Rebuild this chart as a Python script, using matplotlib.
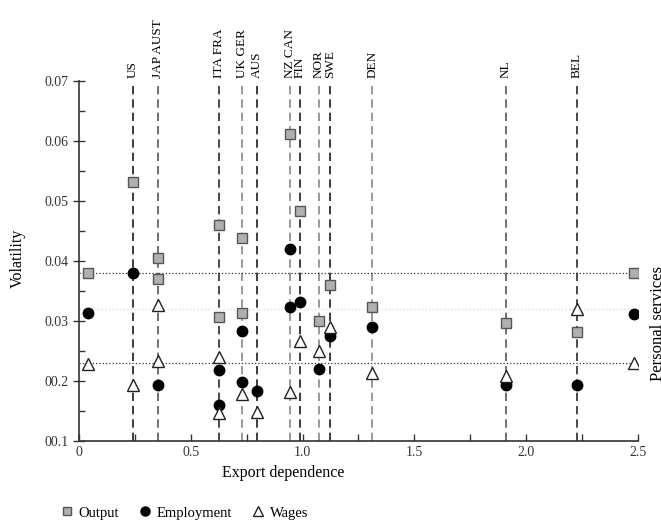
#Volatility against export dependence, by country
import numpy as np
import matplotlib
matplotlib.use("Agg")
import matplotlib.pyplot as plt
from matplotlib.lines import Line2D
from matplotlib.ticker import MultipleLocator

plt.rcParams['font.family'] = ['Liberation Serif', 'DejaVu Serif']

#Country reference lines (export dependence)
line_labels = ["US", "JAP AUST", "ITA FRA", "UK GER", "AUS", "NZ CAN", "FIN",
               "NOR", "SWE", "DEN", "NL", "BEL"]
line_x = [0.24, 0.355, 0.627, 0.73, 0.795, 0.944, 0.988, 1.073, 1.122, 1.312, 1.908, 2.226]

#Personal services reference levels
ref_levels = [0.038, 0.023]
ref_faint = 0.032

#Output
output_x = [0.04, 0.24, 0.355, 0.355, 0.627, 0.627, 0.73, 0.73, 0.944, 0.988,
            1.073, 1.122, 1.312, 1.908, 2.226, 2.48]
output_y = [0.038, 0.0531, 0.0405, 0.0369, 0.0459, 0.0307, 0.0438, 0.0313, 0.0612, 0.0483,
            0.030, 0.0359, 0.0323, 0.0297, 0.0282, 0.038]

#Employment
emp_x = [0.04, 0.24, 0.355, 0.627, 0.627, 0.73, 0.73, 0.795, 0.944, 0.944, 0.988,
         1.073, 1.122, 1.312, 1.908, 2.226, 2.48]
emp_y = [0.0313, 0.038, 0.0194, 0.0218, 0.016, 0.0283, 0.0198, 0.0183, 0.0419, 0.0323, 0.0332,
         0.022, 0.0275, 0.029, 0.0194, 0.0194, 0.0312]

#Wages
wage_x = [0.04, 0.24, 0.355, 0.355, 0.627, 0.627, 0.73, 0.795, 0.944, 0.988,
          1.073, 1.122, 1.312, 1.908, 2.226, 2.48]
wage_y = [0.0229, 0.0194, 0.0326, 0.0234, 0.024, 0.0146, 0.0178, 0.0148, 0.0182, 0.0266,
          0.025, 0.029, 0.0214, 0.0209, 0.0319, 0.023]

xticks = [0, 0.5, 1.0, 1.5, 2.0, 2.5]
xtick_labels = ["0", "0.5", "1.0", "1.5", "2.0", "2.5"]
yticks = [0.01, 0.02, 0.03, 0.04, 0.05, 0.06, 0.07]
ytick_labels = ["00.1", "00.2", "0.03", "0.04", "0.05", "0.06", "0.07"]

line_colors = ['#1a1a1a', '#555555', '#2a2a2a', '#888888', '#1a1a1a', '#888888',
               '#1a1a1a', '#888888', '#1a1a1a', '#888888', '#555555', '#2a2a2a']

fig = plt.figure(figsize=(6.61, 5.25), dpi=100)
ax = fig.add_axes([0.1195, 0.16, 0.8457, 0.6863])

#vertical country lines and labels
for x, lab, c in zip(line_x, line_labels, line_colors):
    ax.axvline(x, color=c, ls=(0, (5, 3)), lw=1.2, zorder=1)
    ax.text(x, 1.008, lab, transform=ax.get_xaxis_transform(), rotation=90,
            ha='center', va='bottom', fontsize=9.5)

#horizontal reference lines
ax.axhline(ref_faint, color='#dddddd', ls=':', lw=1.0, zorder=1)
for lv in ref_levels:
    ax.axhline(lv, color='#333333', ls=':', lw=0.9, zorder=1)

ax.plot(output_x, output_y, ls='none', marker='s', ms=7, mfc='#b0b0b0', mec='#555555',
        mew=1.0, zorder=3)
ax.plot(emp_x, emp_y, ls='none', marker='o', ms=7.5, mfc='black', mec='black', zorder=3)
ax.plot(wage_x, wage_y, ls='none', marker='^', ms=9, mfc='white', mec='#222222',
        mew=1.0, zorder=3)

ax.set_xlim(0, 2.5)
ax.set_ylim(0.01, 0.07)
ax.set_xticks(xticks)
ax.set_xticklabels(xtick_labels, fontsize=10)
ax.set_yticks(yticks)
ax.set_yticklabels(ytick_labels, fontsize=10)
ax.xaxis.set_minor_locator(MultipleLocator(0.25))
ax.yaxis.set_minor_locator(MultipleLocator(0.005))
ax.tick_params(axis='x', which='both', direction='in', length=5, width=1, colors='#333333')
ax.tick_params(axis='y', which='major', direction='inout', length=8, width=1, colors='#333333')
ax.tick_params(axis='y', which='minor', direction='in', length=4, width=1, colors='#333333')
ax.tick_params(labelcolor='#333333')
ax.spines['top'].set_visible(False)
ax.spines['right'].set_visible(False)
ax.spines['left'].set_linewidth(1.2)
ax.spines['bottom'].set_linewidth(1.2)
ax.spines['left'].set_color('#333333')
ax.spines['bottom'].set_color('#333333')

fig.text(18 / 661, 1 - 258 / 525, "Volatility", rotation=90, ha='center', va='center',
         fontsize=11.5)
fig.text(283 / 661, 1 - 473 / 525, "Export dependence", ha='center', va='center',
         fontsize=11.5)
fig.text(650 / 661, 1 - 381 / 525, "Personal services", rotation=90, ha='left',
         va='bottom', fontsize=12)

handles = [
    Line2D([], [], ls='none', marker='s', ms=6, mfc='#b0b0b0', mec='#555555'),
    Line2D([], [], ls='none', marker='o', ms=6.5, mfc='black', mec='black'),
    Line2D([], [], ls='none', marker='^', ms=7, mfc='white', mec='#222222'),
]
fig.legend(handles, ["Output", "Employment", "Wages"], loc='center',
           bbox_to_anchor=(183 / 661, 1 - 513 / 525), ncol=3, frameon=False,
           fontsize=10.5, handletextpad=0.2, columnspacing=1.2, handlelength=1.2)

fig.savefig("out.png", dpi=100)
